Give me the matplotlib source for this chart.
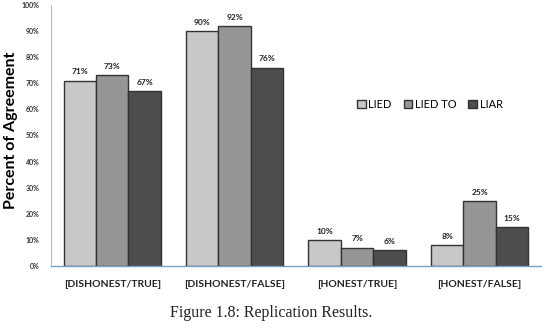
import numpy as np
import matplotlib.pyplot as plt

categories = ["[DISHONEST/TRUE]", "[DISHONEST/FALSE]", "[HONEST/TRUE]", "[HONEST/FALSE]"]
lied = [71, 90, 10, 8]
lied_to = [73, 92, 7, 25]
liar = [67, 76, 6, 15]
series_names = ["LIED", "LIED TO", "LIAR"]
colors = ["#c8c8c8", "#969696", "#4d4d4d"]

fig = plt.figure(figsize=(5.42, 3.30), dpi=100)
ax = fig.add_axes([0.094, 0.194, 0.904, 0.791])

x = np.arange(len(categories))
w = 0.265
for k, vals in enumerate([lied, lied_to, liar]):
    pos = x + (k - 1) * w
    ax.bar(pos, vals, w, color=colors[k], edgecolor="#333333", linewidth=1.0,
           label=series_names[k])
    for p, v in zip(pos, vals):
        ax.text(p, v + 2, f"{v}%", ha="center", va="bottom", fontsize=6,
                fontweight="bold", family="Lato", color="#222222")

ax.set_xlim(-0.5, 3.5)
ax.set_ylim(0, 100)
ax.set_yticks(np.arange(0, 101, 10))
ax.set_yticklabels([f"{t}%" for t in range(0, 101, 10)], fontsize=5,
                   fontweight="bold", family="Lato", color="#333333")
ax.set_xticks(x)
ax.set_xticklabels(categories, fontsize=7.5, fontweight="bold", family="Lato",
                   color="#222222")
ax.tick_params(axis="both", length=0)
ax.tick_params(axis="x", pad=10)
ax.tick_params(axis="y", pad=8)
ax.spines["top"].set_visible(False)
ax.spines["right"].set_visible(False)
ax.spines["left"].set_color("#bbbbbb")
ax.spines["bottom"].set_color("#7a9cc6")
ax.spines["bottom"].set_linewidth(1.0)

ax.set_ylabel("Percent of Agreement", fontsize=11.5, fontweight="bold",
              family="Lato")
ax.yaxis.set_label_coords(-0.068, 0.52)

leg = ax.legend(loc="center", bbox_to_anchor=(0.773, 0.62), ncol=3, frameon=False,
                handlelength=0.8, handleheight=0.8, handletextpad=0.2,
                columnspacing=1.1, prop={"family": "Lato", "size": 8})

fig.text(0.5, 0.052, "Figure 1.8: Replication Results.", ha="center", va="center",
         fontsize=11.5, family="Liberation Serif", color="#222222")

fig.savefig("out.png", dpi=100)
